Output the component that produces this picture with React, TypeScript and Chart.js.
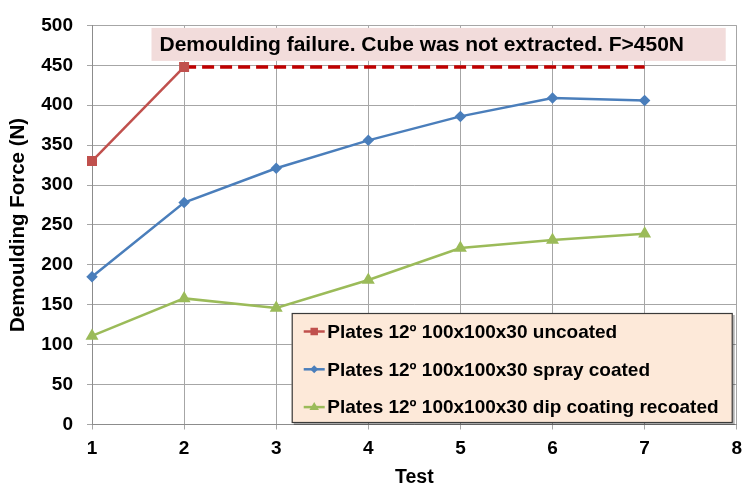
import React, { useEffect, useRef } from "react";
import { Chart, registerables } from "chart.js";
Chart.register(...registerables);

// ---- data ----
const uncoatedTests = [1, 2];
const uncoatedForce = [330, 448];
const tests = [1, 2, 3, 4, 5, 6, 7];
const sprayCoatedForce = [185, 278, 321, 356, 386, 409, 406];
const dipRecoatedForce = [111, 158, 146, 181, 221, 231, 239];
const failureTests = [2, 7];
const failureForce = [448, 448];
const seriesLabels = [
  "Plates 12º 100x100x30 uncoated",
  "Plates 12º 100x100x30 spray coated",
  "Plates 12º 100x100x30 dip coating recoated",
];
const annotationText = "Demoulding failure. Cube was not extracted. F>450N";
const xTitle = "Test";
const yTitle = "Demoulding Force (N)";
const xMin = 1, xMax = 8, xStep = 1;
const yMin = 0, yMax = 500, yStep = 50;

const FONT = "'Liberation Sans', Arial, Helvetica, sans-serif";
const RED = "#c0504d";
const BLUE = "#4a7ebb";
const GREEN = "#9bbb59";
const DARKRED = "#c00000";
const GRID = "#a6a6a6";

const toXY = (xs: number[], ys: number[]) => xs.map((x, i) => ({ x, y: ys[i] }));

function drawMarker(ctx: CanvasRenderingContext2D, style: string, x: number, y: number, r: number) {
  ctx.beginPath();
  if (style === "rect") {
    const s = Math.SQRT1_2 * r;
    ctx.rect(x - s, y - s, 2 * s, 2 * s);
  } else if (style === "rectRot") {
    ctx.moveTo(x, y - r);
    ctx.lineTo(x + r, y);
    ctx.lineTo(x, y + r);
    ctx.lineTo(x - r, y);
    ctx.closePath();
  } else {
    ctx.moveTo(x, y - r);
    ctx.lineTo(x + r * 0.95, y + r * 0.6);
    ctx.lineTo(x - r * 0.95, y + r * 0.6);
    ctx.closePath();
  }
  ctx.fill();
}

const overlayPlugin = {
  id: "overlay",
  afterDraw(chart: any) {
    const { ctx, chartArea } = chart;
    ctx.save();
    // annotation box
    const ax = chartArea.left + 59.5;
    const ay = chartArea.top + 2.5;
    const aw = chartArea.right - 11 - ax;
    const ah = 33;
    ctx.fillStyle = "#f2dcdb";
    ctx.fillRect(ax, ay, aw, ah);
    ctx.fillStyle = "#000";
    ctx.font = `bold 21px ${FONT}`;
    ctx.textBaseline = "middle";
    ctx.textAlign = "left";
    ctx.fillText(annotationText, ax + 8, ay + ah / 2 + 0.5);

    // legend box
    const lw = 441, lh = 110;
    const lx = chartArea.right - 4 - lw;
    const ly = chartArea.bottom - 1.5 - lh;
    ctx.fillStyle = "rgba(0,0,0,0.3)";
    ctx.fillRect(lx + 2, ly + 2, lw, lh);
    ctx.fillStyle = "#fde9d9";
    ctx.fillRect(lx, ly, lw, lh);
    ctx.strokeStyle = "#3a3a3a";
    ctx.lineWidth = 1.2;
    ctx.strokeRect(lx + 0.5, ly + 0.5, lw - 1, lh - 1);
    const legendSets = chart.data.datasets.filter((d: any) => d.inLegend);
    legendSets.forEach((ds: any, i: number) => {
      const cy = ly + 18.5 + i * 37.8;
      const x0 = lx + 12, x1 = lx + 33;
      ctx.strokeStyle = ds.borderColor;
      ctx.lineWidth = 2.5;
      ctx.beginPath();
      ctx.moveTo(x0, cy);
      ctx.lineTo(x1, cy);
      ctx.stroke();
      ctx.fillStyle = ds.pointBackgroundColor;
      drawMarker(ctx, ds.pointStyle, (x0 + x1) / 2, cy, ds.pointRadius);
      ctx.fillStyle = "#000";
      ctx.font = `bold 19px ${FONT}`;
      ctx.textAlign = "left";
      ctx.textBaseline = "middle";
      ctx.fillText(ds.label, x1 + 2.5, cy + 1);
    });
    ctx.restore();
  },
};

export default function App() {
  const ref = useRef<HTMLCanvasElement | null>(null);
  useEffect(() => {
    document.body.style.margin = "0";
    if (!ref.current) return;
    const chart = new Chart(ref.current, {
      type: "line",
      data: {
        datasets: [
          {
            label: seriesLabels[0],
            data: toXY(uncoatedTests, uncoatedForce),
            borderColor: RED,
            backgroundColor: RED,
            pointBackgroundColor: RED,
            pointBorderColor: RED,
            pointStyle: "rect",
            pointRadius: 5.3,
            borderWidth: 2.5,
            clip: false,
            inLegend: true,
          } as any,
          {
            label: "failure",
            data: toXY(failureTests, failureForce),
            borderColor: DARKRED,
            borderWidth: 3.5,
            borderDash: [12, 6],
            pointRadius: 0,
            clip: false,
            inLegend: false,
          } as any,
          {
            label: seriesLabels[1],
            data: toXY(tests, sprayCoatedForce),
            borderColor: BLUE,
            backgroundColor: BLUE,
            pointBackgroundColor: BLUE,
            pointBorderColor: BLUE,
            pointStyle: "rectRot",
            pointRadius: 4,
            borderWidth: 2.5,
            clip: false,
            inLegend: true,
          } as any,
          {
            label: seriesLabels[2],
            data: toXY(tests, dipRecoatedForce),
            borderColor: GREEN,
            backgroundColor: GREEN,
            pointBackgroundColor: GREEN,
            pointBorderColor: GREEN,
            pointStyle: "triangle",
            pointRadius: 5,
            borderWidth: 2.5,
            clip: false,
            inLegend: true,
          } as any,
        ],
      },
      options: {
        animation: false,
        responsive: false,
        layout: { padding: { left: 0, right: 9, top: 16.5, bottom: 0 } },
        plugins: { legend: { display: false }, tooltip: { enabled: false } },
        scales: {
          x: {
            type: "linear",
            min: xMin,
            max: xMax,
            ticks: { stepSize: xStep, color: "#000", font: { family: FONT, size: 19, weight: "bold" }, padding: 8 },
            grid: { color: GRID, tickLength: 5, tickColor: GRID },
            border: { color: "#8c8c8c" },
            title: { display: true, text: xTitle, color: "#000", font: { family: FONT, size: 19.5, weight: "bold" }, padding: { top: 0, bottom: 4 } },
            afterFit: (s: any) => { s.height = 68.5; },
          },
          y: {
            min: yMin,
            max: yMax,
            ticks: { stepSize: yStep, color: "#000", font: { family: FONT, size: 19, weight: "bold" }, padding: 14 },
            grid: { color: GRID, tickLength: 5, tickColor: GRID },
            border: { color: "#8c8c8c" },
            title: { display: true, text: yTitle, color: "#000", font: { family: FONT, size: 20.5, weight: "bold" }, padding: { top: 6, bottom: 0 } },
            afterFit: (s: any) => { s.width = 92; },
          },
        },
      } as any,
      plugins: [overlayPlugin],
    });
    return () => chart.destroy();
  }, []);
  return <canvas ref={ref} width={750} height={493} style={{ display: "block" }} />;
}
